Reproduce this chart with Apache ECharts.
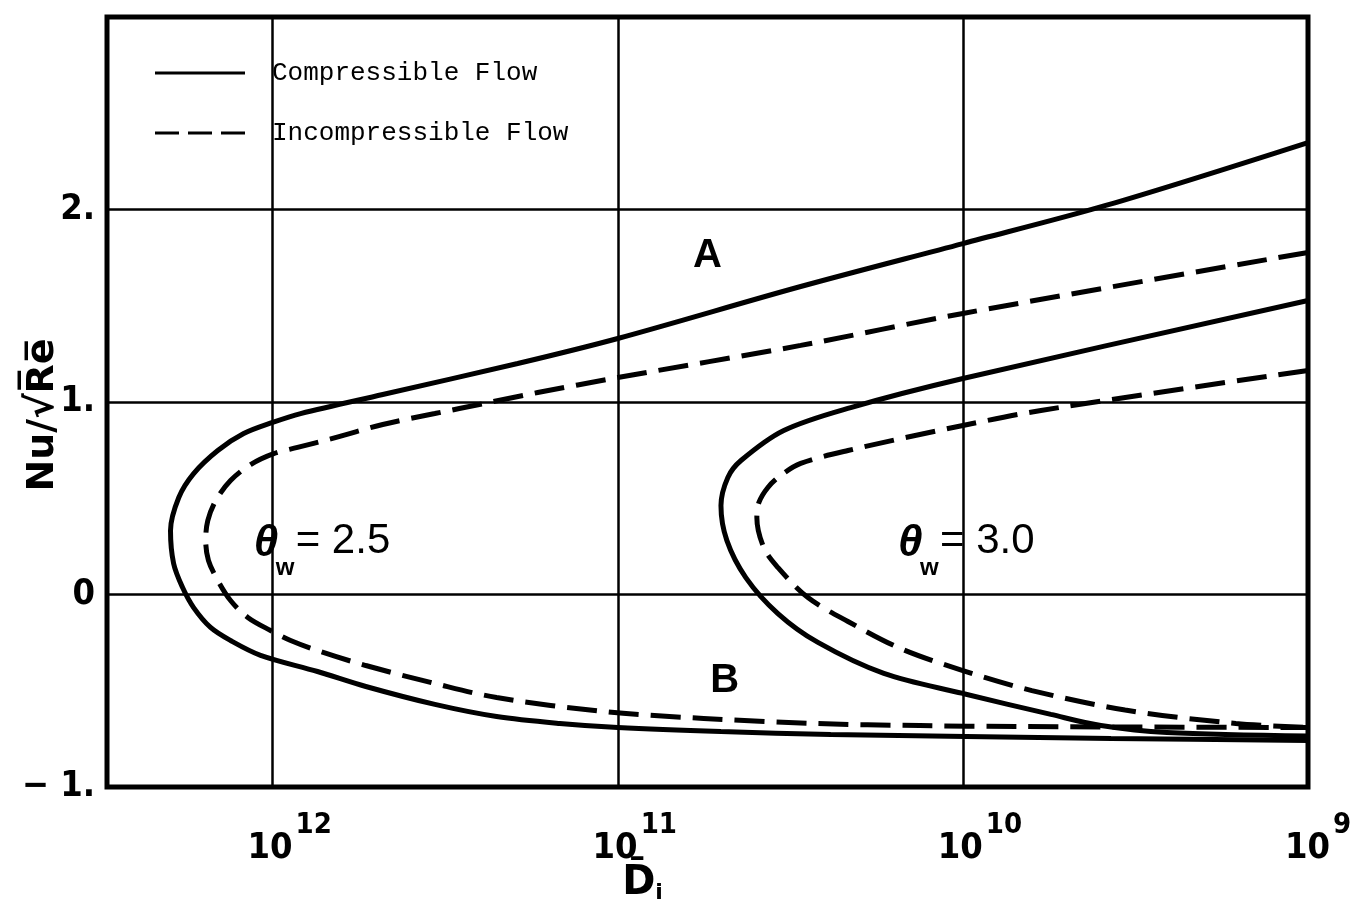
<!DOCTYPE html>
<html>
<head>
<meta charset="utf-8">
<script src="https://cdn.jsdelivr.net/npm/echarts@6/dist/echarts.min.js"></script>
<style>
html,body{margin:0;padding:0;background:#fff;}
#c{width:1355px;height:924px;}
</style>
</head>
<body>
<div id="c"></div>
<script>
// x values are log10(D_i); axis runs from 10^12.48 (left) to 10^9 (right)
const xTicks = [9, 10, 11, 12];
const yTickLabels = {'-1': '\u2212 1.', '0': '0', '1': '1.', '2': '2.'};
const seriesNames = ['Compressible Flow', 'Incompressible Flow'];

// theta_w = 2.5
const compressible25 = [
  [9.000, 2.348], [9.586, 2.021], [10.000, 1.823], [10.470, 1.60], [11.000, 1.330],
  [11.290, 1.200], [11.681, 1.039], [11.919, 0.940], [12.000, 0.894], [12.084, 0.836],
  [12.159, 0.748], [12.229, 0.628], [12.272, 0.504], [12.296, 0.332], [12.287, 0.161],
  [12.261, 0.036], [12.229, -0.068], [12.180, -0.171], [12.122, -0.239], [12.035, -0.316],
  [11.870, -0.400], [11.730, -0.478], [11.530, -0.571], [11.351, -0.634], [11.168, -0.670],
  [11.000, -0.691], [10.701, -0.712], [10.383, -0.727], [9.991, -0.738], [9.571, -0.748],
  [9.000, -0.758]
];
const incompressible25 = [
  [9.000, 1.777], [10.000, 1.460], [10.470, 1.294], [11.000, 1.127], [11.232, 1.049],
  [11.388, 0.992], [11.530, 0.940], [11.681, 0.883], [11.829, 0.810], [11.928, 0.764],
  [11.997, 0.732], [12.064, 0.675], [12.122, 0.592], [12.165, 0.488], [12.188, 0.384],
  [12.194, 0.281], [12.186, 0.177], [12.159, 0.073], [12.122, -0.031], [12.072, -0.119],
  [12.006, -0.187], [11.948, -0.239], [11.870, -0.291], [11.730, -0.369], [11.530, -0.462],
  [11.351, -0.535], [11.041, -0.608], [10.751, -0.644], [10.429, -0.670], [10.125, -0.681],
  [9.846, -0.686], [9.000, -0.691]
];
// theta_w = 3.0
const compressible30 = [
  [9.000, 1.527], [10.000, 1.122], [10.325, 0.971], [10.519, 0.852], [10.643, 0.696],
  [10.681, 0.608], [10.701, 0.462], [10.684, 0.281], [10.629, 0.088], [10.536, -0.099],
  [10.420, -0.249], [10.229, -0.410], [10.000, -0.514], [9.745, -0.623], [9.600, -0.681],
  [9.409, -0.717], [9.000, -0.735]
];
const incompressible30 = [
  [9.000, 1.164], [9.774, 0.956], [10.000, 0.878], [10.333, 0.748], [10.470, 0.681],
  [10.528, 0.618], [10.565, 0.556], [10.591, 0.478], [10.597, 0.400], [10.577, 0.244],
  [10.536, 0.140], [10.449, -0.016], [10.333, -0.140], [10.180, -0.281], [10.000, -0.395],
  [9.800, -0.499], [9.530, -0.600], [9.209, -0.670], [9.000, -0.691]
];

const letterLabels = [
  {text: 'A', at: [10.74, 1.76]},
  {text: 'B', at: [10.69, -0.45]}
];
const thetaLabels = [
  {value: '2.5', at: [12.055, 0.265]},
  {value: '3.0', at: [10.188, 0.265]}
];

const condensed = '"Liberation Sans Narrow", "DejaVu Sans Condensed", "Liberation Sans", sans-serif';

function makeSeries(name, data, dashed) {
  return {
    name: name, type: 'line', data: data, smooth: 0.33,
    symbol: 'none', showSymbol: false, silent: true,
    lineStyle: {color: '#000', width: 5, type: dashed ? [30, 12] : 'solid'},
    itemStyle: {color: '#000'}, z: 3
  };
}

const chart = echarts.init(document.getElementById('c'));
const option = {
  animation: false,
  backgroundColor: '#fff',
  grid: {left: 107, right: 47, top: 17, bottom: 137, show: true,
         borderColor: '#000', borderWidth: 5, outerBoundsMode: 'none'},
  legend: {
    orient: 'vertical', left: 150, top: 55, itemGap: 34,
    itemWidth: 90, itemHeight: 3, selectedMode: false,
    itemStyle: {color: '#000', borderWidth: 0},
    data: [
      {name: seriesNames[0], icon: 'path://M0,0h90v3h-90z'},
      {name: seriesNames[1], icon: 'path://M0,0h24v3h-24zM33,0h24v3h-24zM66,0h24v3h-24z'}
    ],
    textStyle: {fontFamily: '"Liberation Mono", "DejaVu Sans Mono", monospace',
                fontSize: 26, color: '#000', padding: [0, 0, 0, 22]}
  },
  xAxis: {
    type: 'value', inverse: true, min: 9, max: 12.48, interval: 1,
    axisLine: {show: false}, axisTick: {show: false},
    splitLine: {show: true, lineStyle: {color: '#000', width: 2.5}},
    axisLabel: {
      margin: 24, color: '#000',
      formatter: function (v) {
        if (Math.abs(v - Math.round(v)) > 1e-6 || xTicks.indexOf(Math.round(v)) < 0) return '';
        const e = String(Math.round(v));
        return '{' + (e.length > 1 ? 'b2' : 'b1') + '|10}{s|' + e + '}';
      },
      rich: {
        b2: {fontSize: 36, fontWeight: 'bold', fontFamily: condensed, padding: [20, 0, 0, 34]},
        b1: {fontSize: 36, fontWeight: 'bold', fontFamily: condensed, padding: [20, 0, 0, 20]},
        s: {fontSize: 29, fontWeight: 'bold', fontFamily: condensed, verticalAlign: 'top', padding: [0, 0, 0, 3]}
      }
    },
    name: '{d|D\u0304}{i|i}', nameLocation: 'middle', nameGap: 77, nameMoveOverlap: false,
    nameTextStyle: {
      padding: [0, 130, 0, 0],
      rich: {
        d: {fontSize: 40, fontWeight: 'bold', fontFamily: '"DejaVu Sans", sans-serif', color: '#000'},
        i: {fontSize: 22, fontWeight: 'bold', fontFamily: '"DejaVu Sans", sans-serif', color: '#000', verticalAlign: 'bottom'}
      }
    }
  },
  yAxis: {
    type: 'value', min: -1, max: 3, interval: 1,
    axisLine: {show: false}, axisTick: {show: false},
    splitLine: {show: true, lineStyle: {color: '#000', width: 2.5}},
    axisLabel: {
      margin: 12, color: '#000', fontSize: 36, fontWeight: 'bold', fontFamily: condensed,
      formatter: function (v) { const k = String(Math.round(v)); return yTickLabels[k] !== undefined ? yTickLabels[k] : ''; }
    },
    name: 'Nu/\u221AR\u0305e\u0305', nameLocation: 'middle', nameGap: 45, nameMoveOverlap: false,
    nameTextStyle: {fontSize: 38, fontWeight: 'bold', fontFamily: '"DejaVu Sans", sans-serif',
                    color: '#000', padding: [0, 26, 0, 0]}
  },
  series: [
    makeSeries(seriesNames[0], compressible25, false),
    makeSeries(seriesNames[1], incompressible25, true),
    makeSeries(seriesNames[0], compressible30, false),
    makeSeries(seriesNames[1], incompressible30, true)
  ]
};
chart.setOption(option);

const graphics = [];
letterLabels.forEach(function (a) {
  const p = chart.convertToPixel({gridIndex: 0}, a.at);
  graphics.push({type: 'text', x: p[0], y: p[1], z: 10, silent: true,
    style: {text: a.text, fontSize: 40, fontWeight: 'bold', fontFamily: '"Liberation Sans", sans-serif',
            fill: '#000', align: 'center', verticalAlign: 'middle'}});
});
thetaLabels.forEach(function (t) {
  const p = chart.convertToPixel({gridIndex: 0}, t.at);
  graphics.push({type: 'text', x: p[0], y: p[1], z: 10, silent: true,
    style: {text: '\u03B8', fontSize: 44, fontWeight: 'bold', fontStyle: 'italic',
            fontFamily: '"Liberation Sans", sans-serif', fill: '#000', align: 'left', verticalAlign: 'middle'}});
  graphics.push({type: 'text', x: p[0] + 22, y: p[1] + 25, z: 10, silent: true,
    style: {text: 'w', fontSize: 24, fontWeight: 'bold',
            fontFamily: '"Liberation Sans", sans-serif', fill: '#000', align: 'left', verticalAlign: 'middle'}});
  graphics.push({type: 'text', x: p[0] + 42, y: p[1] - 2, z: 10, silent: true,
    style: {text: '= ' + t.value, fontSize: 42,
            fontFamily: '"Liberation Sans", sans-serif', fill: '#000', align: 'left', verticalAlign: 'middle'}});
});
chart.setOption({graphic: graphics});
</script>
</body>
</html>
